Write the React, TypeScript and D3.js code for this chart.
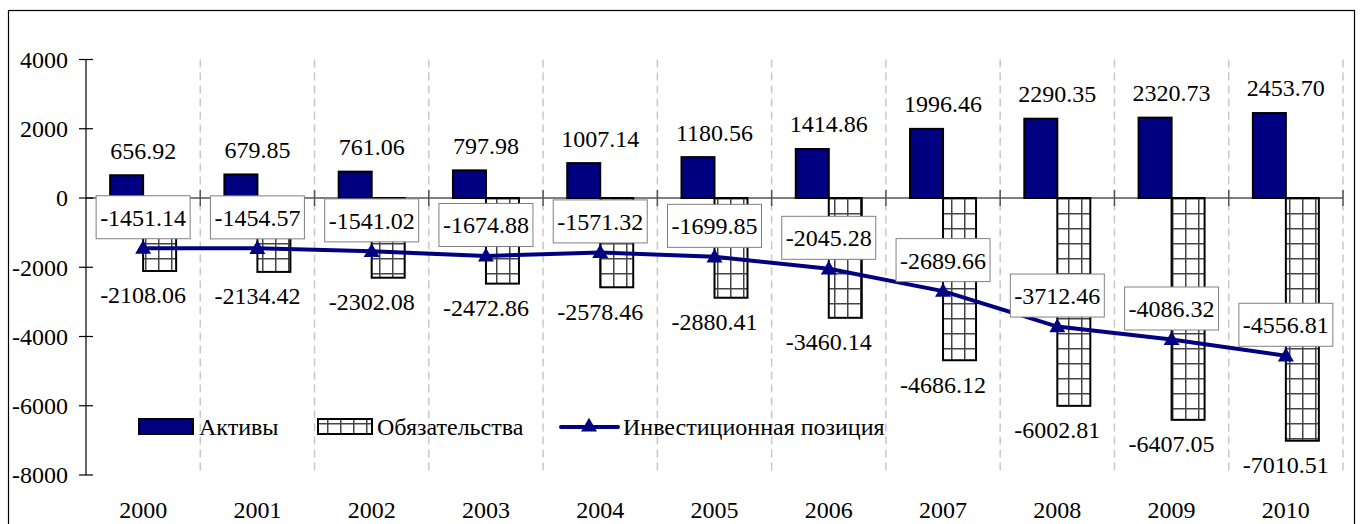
import React from "react";
import * as d3 from "d3";

// values
const years = ["2000", "2001", "2002", "2003", "2004", "2005", "2006", "2007", "2008", "2009", "2010"];
const assets = [656.92, 679.85, 761.06, 797.98, 1007.14, 1180.56, 1414.86, 1996.46, 2290.35, 2320.73, 2453.7];
const liabilities = [-2108.06, -2134.42, -2302.08, -2472.86, -2578.46, -2880.41, -3460.14, -4686.12, -6002.81, -6407.05, -7010.51];
const position = [-1451.14, -1454.57, -1541.02, -1674.88, -1571.32, -1699.85, -2045.28, -2689.66, -3712.46, -4086.32, -4556.81];
const yTicks = [4000, 2000, 0, -2000, -4000, -6000, -8000];
const seriesNames = ["Активы", "Обязательства", "Инвестиционная позиция"];

const W = 1364;
const H = 524;
const navy = "#000080";
const FONT = "Liberation Serif";

// text with the serif face set directly on the element
const T = (props: any) => (
	<text {...props} fontFamily={FONT} fontSize={24} fill="#000" style={{ fontFamily: FONT }} />
);

const App = () => {
	const x = d3.scaleBand().domain(years).range([86, 1343]).paddingInner(0).paddingOuter(0);
	const y = d3.scaleLinear().domain([-8000, 4000]).range([475, 59.5]);
	const barW = 33;
	const cx = (yr: string) => (x(yr) as number) + x.bandwidth() / 2;
	const y0 = y(0);

	const line = d3
		.line<number>()
		.x((d, i) => cx(years[i]))
		.y((d) => y(d));

	const tri = d3.symbol().type(d3.symbolTriangle).size(110);

	const boundaries = years.map((yr) => (x(yr) as number) + x.bandwidth());

	return (
		<svg width={W} height={H} style={{ position: "absolute", left: 0, top: 0, display: "block", background: "#fff" }}>
			<defs>
				<pattern id="grid" patternUnits="userSpaceOnUse" width={13} height={15} x={2} y={y0}>
					<rect width={13} height={15} fill="#fff" />
					<line x1={0.75} y1={0} x2={0.75} y2={15} stroke="#444" strokeWidth={1.5} />
					<line x1={0} y1={0.75} x2={13} y2={0.75} stroke="#444" strokeWidth={1.5} />
				</pattern>
			</defs>

			{/* outer frame */}
			<rect x={8.5} y={10.5} width={1346} height={600} fill="none" stroke="#000" strokeWidth={1.2} />

			{/* dashed category gridlines */}
			{boundaries.map((bx, i) => (
				<line key={"g" + i} x1={bx} x2={bx} y1={59.5} y2={475} stroke="#c8c8c8" strokeWidth={1.5} strokeDasharray="8 5" />
			))}

			{/* bars */}
			{years.map((yr, i) => (
				<g key={"b" + yr}>
					<rect
						x={cx(yr) - barW}
						y={y(assets[i])}
						width={barW}
						height={y0 - y(assets[i])}
						fill={navy}
						stroke="#000"
						strokeWidth={2}
					/>
					<rect
						x={cx(yr)}
						y={y0}
						width={barW}
						height={y(liabilities[i]) - y0}
						fill="url(#grid)"
						stroke="#000"
						strokeWidth={2}
					/>
				</g>
			))}

			{/* y axis */}
			<line x1={86} x2={86} y1={59.5} y2={475} stroke="#000" strokeWidth={1.2} />
			{yTicks.map((t) => (
				<g key={"t" + t}>
					<line x1={79} x2={93} y1={y(t)} y2={y(t)} stroke="#000" strokeWidth={1.2} />
					<T x={68} y={y(t)} dy="0.35em" textAnchor="end">
						{t}
					</T>
				</g>
			))}

			{/* zero line with category ticks */}
			<line x1={86} x2={1343} y1={y0} y2={y0} stroke="#000" strokeWidth={1.2} />
			{boundaries.map((bx, i) => (
				<line key={"ct" + i} x1={bx} x2={bx} y1={y0 - 8} y2={y0 + 8} stroke="#555" strokeWidth={1.5} />
			))}

			{/* investment position line */}
			<path d={line(position) || ""} fill="none" stroke={navy} strokeWidth={4} />
			{years.map((yr, i) => (
				<path key={"m" + yr} d={tri() || ""} transform={`translate(${cx(yr)},${y(position[i]) + 1})`} fill={navy} />
			))}

			{/* asset labels */}
			{years.map((yr, i) => (
				<T key={"al" + yr} x={cx(yr)} y={y(assets[i]) - 25} dy="0.35em" textAnchor="middle">
					{assets[i].toFixed(2)}
				</T>
			))}

			{/* liability labels */}
			{years.map((yr, i) => (
				<T key={"ll" + yr} x={cx(yr)} y={y(liabilities[i]) + 24} dy="0.35em" textAnchor="middle">
					{liabilities[i].toFixed(2)}
				</T>
			))}

			{/* position labels in boxes */}
			{years.map((yr, i) => {
				const py = y(position[i]) - 31;
				return (
					<g key={"pl" + yr}>
						<rect x={cx(yr) - 47} y={py - 21.5} width={94} height={43} fill="#fff" stroke="#808080" strokeWidth={1} />
						<T x={cx(yr)} y={py} dy="0.35em" textAnchor="middle">
							{position[i].toFixed(2)}
						</T>
					</g>
				);
			})}

			{/* legend */}
			<rect x={139} y={419} width={54} height={15} fill={navy} stroke="#000" strokeWidth={2} />
			<T x={199} y={435}>
				{seriesNames[0]}
			</T>
			<rect x={318} y={419} width={54} height={15} fill="url(#grid)" stroke="#000" strokeWidth={2} />
			<T x={377} y={435}>
				{seriesNames[1]}
			</T>
			<line x1={561} x2={618} y1={427} y2={427} stroke={navy} strokeWidth={4} strokeLinecap="round" />
			<path d={tri() || ""} transform="translate(589,427)" fill={navy} />
			<T x={623} y={435}>
				{seriesNames[2]}
			</T>

			{/* category labels */}
			{years.map((yr) => (
				<T key={"x" + yr} x={cx(yr)} y={518} textAnchor="middle">
					{yr}
				</T>
			))}
		</svg>
	);
};

export default App;
